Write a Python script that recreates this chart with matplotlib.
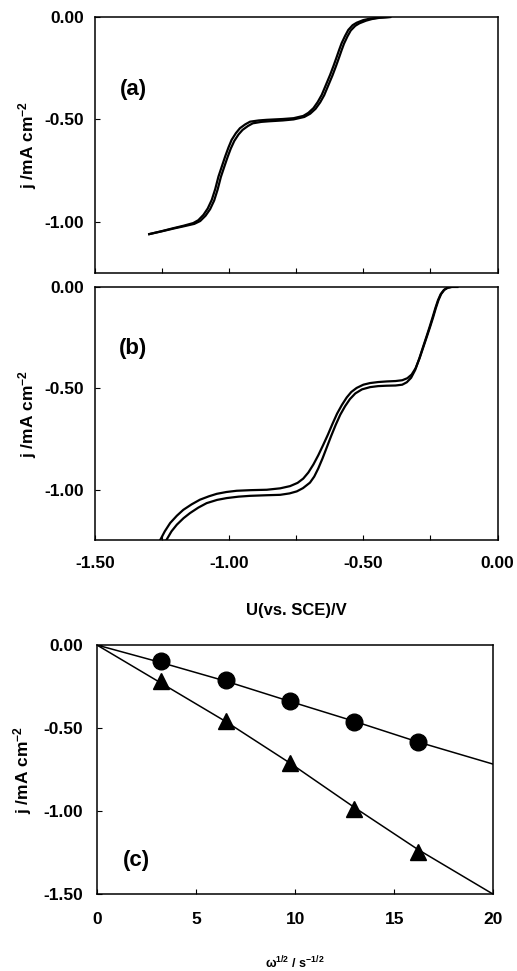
import matplotlib
matplotlib.use('Agg')
import matplotlib.pyplot as plt
from matplotlib.ticker import MultipleLocator

plt.rcParams['font.family'] = ['Liberation Sans', 'DejaVu Sans']
plt.rcParams['font.weight'] = 'bold'
plt.rcParams['mathtext.fontset'] = 'custom'
plt.rcParams['mathtext.rm'] = 'Liberation Sans:bold'
plt.rcParams['mathtext.bf'] = 'Liberation Sans:bold'
plt.rcParams['mathtext.it'] = 'Liberation Sans:bold:italic'
plt.rcParams['mathtext.default'] = 'bf'

# (a) two sweeps, potential (V vs SCE) and current density (mA cm-2)
a_u1 = [-1.298, -1.25, -1.208, -1.17, -1.134, -1.115, -1.096, -1.08, -1.065, -1.052,
        -1.040, -1.027, -1.015, -1.003, -0.991, -0.975, -0.960, -0.940, -0.922, -0.89,
        -0.86, -0.80, -0.76, -0.724, -0.705, -0.686, -0.670, -0.655, -0.640, -0.624,
        -0.611, -0.599, -0.590, -0.581, -0.568, -0.556, -0.540, -0.525, -0.50, -0.475,
        -0.44, -0.40]
a_j1 = [-1.060, -1.045, -1.031, -1.019, -1.006, -0.992, -0.966, -0.935, -0.893, -0.840,
        -0.779, -0.728, -0.681, -0.638, -0.600, -0.567, -0.543, -0.524, -0.511, -0.505,
        -0.502, -0.498, -0.494, -0.483, -0.468, -0.445, -0.415, -0.380, -0.333, -0.283,
        -0.238, -0.194, -0.160, -0.128, -0.092, -0.063, -0.040, -0.028, -0.015, -0.008,
        -0.003, 0.0]
a_u2 = [-1.298, -1.25, -1.208, -1.17, -1.130, -1.108, -1.088, -1.071, -1.056, -1.043,
        -1.031, -1.018, -1.006, -0.994, -0.981, -0.965, -0.950, -0.930, -0.912, -0.88,
        -0.85, -0.80, -0.76, -0.720, -0.698, -0.678, -0.661, -0.646, -0.631, -0.615,
        -0.602, -0.590, -0.581, -0.572, -0.559, -0.547, -0.530, -0.515, -0.49, -0.468,
        -0.44, -0.40]
a_j2 = [-1.060, -1.046, -1.033, -1.022, -1.010, -0.996, -0.970, -0.938, -0.896, -0.842,
        -0.781, -0.730, -0.684, -0.642, -0.605, -0.573, -0.551, -0.532, -0.519, -0.512,
        -0.509, -0.505, -0.500, -0.488, -0.472, -0.448, -0.417, -0.382, -0.335, -0.285,
        -0.240, -0.196, -0.162, -0.130, -0.094, -0.066, -0.043, -0.031, -0.018, -0.010,
        -0.004, 0.0]

# (b) two sweeps
b_u1 = [-1.258, -1.24, -1.22, -1.195, -1.171, -1.14, -1.109, -1.075, -1.046, -1.01,
        -0.972, -0.92, -0.86, -0.81, -0.773, -0.745, -0.724, -0.705, -0.686, -0.668,
        -0.650, -0.632, -0.615, -0.598, -0.580, -0.562, -0.545, -0.525, -0.50, -0.475,
        -0.445, -0.413, -0.38, -0.355, -0.336, -0.32, -0.305, -0.29, -0.276, -0.262,
        -0.251, -0.240, -0.230, -0.220, -0.210, -0.198, -0.185, -0.170, -0.15]
b_j1 = [-1.25, -1.205, -1.164, -1.128, -1.099, -1.072, -1.049, -1.032, -1.020, -1.011,
        -1.005, -1.002, -1.000, -0.993, -0.982, -0.966, -0.945, -0.915, -0.875, -0.830,
        -0.780, -0.728, -0.675, -0.625, -0.582, -0.545, -0.518, -0.498, -0.482, -0.474,
        -0.469, -0.466, -0.464, -0.460, -0.450, -0.432, -0.400, -0.350, -0.295, -0.240,
        -0.196, -0.150, -0.105, -0.065, -0.035, -0.014, -0.004, 0.0, 0.0]
b_u2 = [-1.235, -1.215, -1.195, -1.17, -1.146, -1.115, -1.084, -1.045, -1.009, -0.965,
        -0.922, -0.86, -0.81, -0.775, -0.748, -0.725, -0.699, -0.683, -0.668, -0.652,
        -0.636, -0.620, -0.603, -0.586, -0.568, -0.550, -0.530, -0.505, -0.475, -0.445,
        -0.413, -0.38, -0.355, -0.338, -0.322, -0.307, -0.292, -0.278, -0.264, -0.253,
        -0.242, -0.232, -0.222, -0.212, -0.200, -0.187, -0.172, -0.15]
b_j2 = [-1.25, -1.205, -1.172, -1.14, -1.115, -1.088, -1.066, -1.050, -1.041, -1.034,
        -1.030, -1.027, -1.025, -1.018, -1.008, -0.992, -0.965, -0.935, -0.895, -0.845,
        -0.790, -0.735, -0.680, -0.630, -0.588, -0.553, -0.525, -0.505, -0.494, -0.489,
        -0.487, -0.486, -0.482, -0.470, -0.448, -0.410, -0.355, -0.298, -0.242, -0.197,
        -0.150, -0.106, -0.066, -0.036, -0.015, -0.004, 0.0, 0.0]

# (c) Levich plot, omega^1/2 (s^-1/2)
w_half = [3.22, 6.52, 9.76, 12.96, 16.19]
j_circle = [-0.096, -0.211, -0.339, -0.462, -0.586]
j_triangle = [-0.215, -0.456, -0.707, -0.984, -1.245]
fit_w = [0, 3.22, 6.52, 9.76, 12.96, 16.19, 20]
fit_circle = [0.0, -0.105, -0.218, -0.340, -0.458, -0.583, -0.717]
fit_triangle = [0.0, -0.228, -0.462, -0.712, -0.975, -1.230, -1.50]

fig = plt.figure(figsize=(5.17, 9.71), dpi=100)
ax_a = fig.add_axes([0.1838, 0.7188, 0.7785, 0.2637])
ax_b = fig.add_axes([0.1838, 0.4434, 0.7785, 0.2611])
ax_c = fig.add_axes([0.1876, 0.0790, 0.7666, 0.2567])

ylab = r'j /mA cm$^{\mathbf{-2}}$'

for ax in (ax_a, ax_b):
    ax.set_xlim(-1.5, 0)
    ax.set_ylim(-1.25, 0)
    ax.xaxis.set_major_locator(MultipleLocator(0.5))
    ax.xaxis.set_minor_locator(MultipleLocator(0.25))
    ax.yaxis.set_major_locator(MultipleLocator(0.5))
    ax.yaxis.set_major_formatter(lambda v, p: f'{v:.2f}')
    ax.xaxis.set_major_formatter(lambda v, p: f'{v:.2f}')
    ax.set_ylabel(ylab, fontsize=12.5, fontweight='bold', labelpad=4)

ax_a.plot(a_u1, a_j1, color='black', lw=1.6)
ax_a.plot(a_u2, a_j2, color='black', lw=1.6)
ax_a.tick_params(axis='x', labelbottom=False)
ax_a.text(0.095, 0.715, '(a)', transform=ax_a.transAxes, fontsize=16,
          fontweight='bold', ha='center', va='center')

ax_b.plot(b_u1, b_j1, color='black', lw=1.6)
ax_b.plot(b_u2, b_j2, color='black', lw=1.6)
ax_b.text(0.095, 0.756, '(b)', transform=ax_b.transAxes, fontsize=16,
          fontweight='bold', ha='center', va='center')
ax_b.set_xlabel('U(vs. SCE)/V', fontsize=12, fontweight='bold', labelpad=23)

ax_c.plot(fit_w, fit_circle, color='black', lw=1.1)
ax_c.plot(fit_w, fit_triangle, color='black', lw=1.1)
ax_c.plot(w_half, j_circle, 'o', color='black', ms=12)
ax_c.plot(w_half, j_triangle, '^', color='black', ms=12)
ax_c.set_xlim(0, 20)
ax_c.set_ylim(-1.5, 0)
ax_c.xaxis.set_major_locator(MultipleLocator(5))
ax_c.yaxis.set_major_locator(MultipleLocator(0.5))
ax_c.yaxis.set_major_formatter(lambda v, p: f'{v:.2f}')
ax_c.set_ylabel(ylab, fontsize=12.5, fontweight='bold', labelpad=7)
ax_c.set_xlabel(r'$\mathbf{\omega^{1/2}}$ / s$^{\mathbf{-1/2}}$', fontsize=9,
                fontweight='bold', labelpad=20)
ax_c.text(0.10, 0.136, '(c)', transform=ax_c.transAxes, fontsize=16,
          fontweight='bold', ha='center', va='center')

for ax in (ax_a, ax_b, ax_c):
    for s in ax.spines.values():
        s.set_linewidth(1.1)
    ax.tick_params(which='both', direction='in', length=3.5, width=0.8,
                   labelsize=12.5, top=False, right=False)
    ax.tick_params(axis='x', pad=11)
    ax.tick_params(axis='y', pad=8)
ax_c.tick_params(axis='x', pad=13)
ax_c.tick_params(axis='y', pad=10)

plt.savefig('out.png', dpi=100)
